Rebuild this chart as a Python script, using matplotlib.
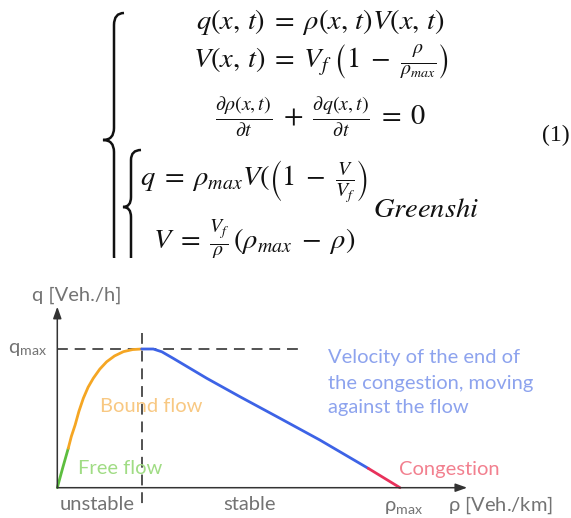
import numpy as np
import matplotlib.pyplot as plt
from matplotlib.path import Path
from matplotlib.patches import PathPatch

plt.rcParams['mathtext.fontset'] = 'stix'

# fundamental diagram, density and flow scaled by rho_max and q_max
free_rho = [0.0, 0.016, 0.032]
free_q = [0.0, 0.145, 0.284]
bound_rho = [0.032, 0.041, 0.052, 0.063, 0.076, 0.090, 0.105, 0.124, 0.144, 0.167, 0.193, 0.220, 0.246]
bound_q = [0.284, 0.370, 0.452, 0.550, 0.645, 0.725, 0.789, 0.855, 0.908, 0.950, 0.981, 0.996, 1.0]
wave_rho = [0.246, 0.280, 0.305, 0.338, 0.436, 0.533, 0.650, 0.766, 0.907]
wave_q = [1.0, 1.0, 0.980, 0.933, 0.789, 0.656, 0.500, 0.344, 0.140]
jam_rho = [0.907, 1.0]
jam_q = [0.140, 0.0]
rho_crit = 0.246

W, H = 571, 518
fig = plt.figure(figsize=(W / 100, H / 100), dpi=100)

# equations block, pixel coordinates
eq = fig.add_axes([0, (H - 258) / H, 1, 258 / H])
eq.set_xlim(0, W)
eq.set_ylim(258, 0)
eq.axis('off')


def brace(ax, x_hook, x_body, x_tip, y_top, y_mid, y_bot, r=10, lw=1.8):
    verts = [(x_hook, y_top), (x_body, y_top), (x_body, y_top + r),
             (x_body, y_mid - r), (x_body, y_mid), (x_tip, y_mid),
             (x_body, y_mid), (x_body, y_mid + r),
             (x_body, y_bot - r), (x_body, y_bot), (x_hook, y_bot)]
    codes = [Path.MOVETO, Path.CURVE3, Path.CURVE3,
             Path.LINETO, Path.CURVE3, Path.CURVE3,
             Path.CURVE3, Path.CURVE3,
             Path.LINETO, Path.CURVE3, Path.CURVE3]
    ax.add_patch(PathPatch(Path(verts, codes), fill=False, lw=lw, color='#111'))


brace(eq, 124, 114, 103, 13, 140, 268, r=12)
brace(eq, 141, 131, 123, 150, 207, 268, r=10)

eqs = dict(fontsize=20.5, color='#111', clip_on=True)
eq.text(320, 22, r'$q(x,\,t)\;=\;\rho(x,\,t)V(x,\,t)$', ha='center', va='center', **eqs)
eq.text(321, 62, r'$V(x,\,t)\;=\;V_f\;\left(1\;-\;\frac{\rho}{\rho_{max}}\right)$', ha='center', va='center', **eqs)
eq.text(320, 117, r'$\frac{\partial\rho(x,t)}{\partial t}\;+\;\frac{\partial q(x,t)}{\partial t}\;=\;0$',
        ha='center', va='center', **eqs)
eq.text(140, 182, r'$q\;=\;\rho_{max}V(\left(1\;-\;\frac{V}{V_f}\right)$', ha='left', va='center', **eqs)
eq.text(373, 209, r'$Greenshi$', ha='left', va='center', **eqs)
eq.text(153, 240, r'$V\;=\;\frac{V_f}{\rho}\,(\rho_{max}\;-\;\rho)$', ha='left', va='center', **eqs)
eq.text(570, 135, '(1)', ha='right', va='center', fontsize=17, family='Liberation Serif', color='#111')

# diagram
x0, y0 = 57.3, 487.7
x1, y1 = 400.0, 349.0
ax = fig.add_axes([x0 / W, (H - y0) / H, (x1 - x0) / W, (y0 - y1) / H])
ax.set_xlim(0, 1)
ax.set_ylim(0, 1)
ax.axis('off')

axis_col = '#333333'
ax.annotate('', xy=(1.196, 0), xytext=(0, 0), annotation_clip=False,
            arrowprops=dict(arrowstyle='-|>,head_length=0.7,head_width=0.25', color=axis_col, lw=1.1,
                            shrinkA=0, shrinkB=0))
ax.annotate('', xy=(0, 1.305), xytext=(0, 0), annotation_clip=False,
            arrowprops=dict(arrowstyle='-|>,head_length=0.7,head_width=0.25', color=axis_col, lw=1.1,
                            shrinkA=0, shrinkB=0))

dash = dict(color='#444444', lw=1.3, linestyle=(0, (6, 3.8)), clip_on=False)
ax.plot([0, 0.702], [1, 1], **dash)
ax.plot([rho_crit, rho_crit], [1.115, -0.132], **dash)

lw = 2.0
ax.plot(free_rho, free_q, color='#5DBE3F', lw=lw, clip_on=False, solid_capstyle='round')
ax.plot(bound_rho, bound_q, color='#F5A623', lw=lw, clip_on=False, solid_capstyle='round')
ax.plot(wave_rho, wave_q, color='#3D63E6', lw=lw, clip_on=False, solid_capstyle='round')
ax.plot(jam_rho, jam_q, color='#E8315B', lw=lw, clip_on=False, solid_capstyle='round')

# labels in pixel positions
lab = fig.add_axes([0, 0, 1, 1])
lab.set_xlim(0, W)
lab.set_ylim(H, 0)
lab.axis('off')
lab.patch.set_alpha(0)

tf = dict(family='Lato', fontsize=14.5, va='center', ha='left')
gray = '#737373'
lab.text(32, 295, 'q [Veh./h]', color=gray, **tf)
lab.text(8, 349, r'q$_{\mathregular{max}}$', color=gray, **tf)
lab.text(100, 406, 'Bound flow', color='#F8C882', **tf)
lab.text(78, 469, 'Free flow', color='#A0DC84', **tf)
lab.text(60, 505, 'unstable', color=gray, **tf)
lab.text(223, 505, 'stable', color=gray, **tf)
lab.text(328, 358, 'Velocity of the end of', color='#8DA3EE', **tf)
lab.text(328, 383, 'the congestion, moving', color='#8DA3EE', **tf)
lab.text(328, 407, 'against the flow', color='#8DA3EE', **tf)
lab.text(399, 469, 'Congestion', color='#F2808F', **tf)
lab.text(384, 507, r'$\mathregular{\rho_{max}}$', color=gray, **tf)
lab.text(448, 505, r'$\mathregular{\rho}$ [Veh./km]', color=gray, **tf)

fig.savefig('out.png', dpi=100)
